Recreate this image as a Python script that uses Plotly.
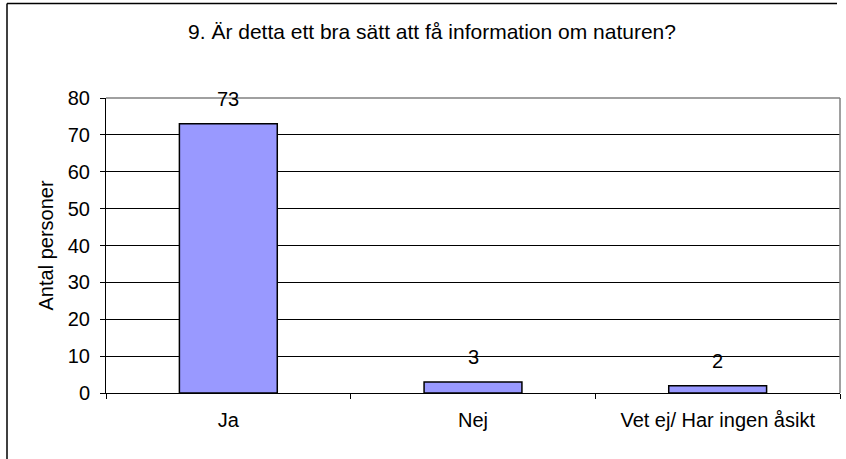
import plotly.graph_objects as go

categories = ["Ja", "Nej", "Vet ej/ Har ingen åsikt"]
values = [73, 3, 2]
y_ticks = [0, 10, 20, 30, 40, 50, 60, 70, 80]
title_text = "9. Är detta ett bra sätt att få information om naturen?"
y_title = "Antal personer"

W, H = 846, 459
L, R, T, B = 106, 6, 98, 66
pw, ph = W - L - R, H - T - B

FONT = "Liberation Sans, Arial, sans-serif"
FS = 20

fig = go.Figure()
fig.add_trace(go.Bar(
    x=categories, y=values,
    marker=dict(color="#9999FF", line=dict(color="#000000", width=1.5)),
    hoverinfo="skip",
))

for c, v in zip(categories, values):
    fig.add_annotation(x=c, y=v, text=str(v), showarrow=False,
                       yanchor="middle", yshift=25,
                       font=dict(family=FONT, size=FS, color="#000000"))

# y-axis title
fig.add_annotation(xref="paper", yref="paper", x=(45 - L) / pw, y=0.5,
                   text=y_title, textangle=-90, showarrow=False,
                   xanchor="center", yanchor="middle",
                   font=dict(family=FONT, size=FS, color="#000000"))

def px_x(x):
    return (x - L) / pw

def px_y(y):
    return (H - B - y) / ph

# plot frame top/right gray
fig.add_shape(type="line", xref="paper", yref="paper", x0=0, x1=1, y0=1, y1=1,
              line=dict(color="#808080", width=1.5))
fig.add_shape(type="line", xref="paper", yref="paper", x0=1, x1=1, y0=0, y1=1,
              line=dict(color="#808080", width=1.5))
# outer chart border (top and left visible)
fig.add_shape(type="line", xref="paper", yref="paper",
              x0=px_x(7), x1=px_x(837), y0=px_y(3.5), y1=px_y(3.5),
              line=dict(color="#000000", width=1.5))
fig.add_shape(type="line", xref="paper", yref="paper",
              x0=px_x(7), x1=px_x(7), y0=px_y(3.5), y1=px_y(470),
              line=dict(color="#000000", width=1.5))

fig.update_layout(
    width=W, height=H,
    margin=dict(l=L, r=R, t=T, b=B, autoexpand=False),
    paper_bgcolor="#ffffff", plot_bgcolor="#ffffff",
    showlegend=False,
    bargap=0.6,
    title=dict(text=title_text, x=432 / W, xanchor="center",
               y=1 - 31.5 / H, yanchor="middle", yref="container", xref="container",
               font=dict(family=FONT, size=21, color="#000000")),
    xaxis=dict(type="category", tickson="boundaries", ticks="outside", ticklen=5,
               tickcolor="#000000", showline=True, linecolor="#000000", linewidth=1,
               showgrid=False, ticklabelstandoff=9, fixedrange=True,
               tickfont=dict(family=FONT, size=FS, color="#000000")),
    yaxis=dict(range=[0, 80], tickvals=y_ticks, ticks="outside", ticklen=5,
               tickcolor="#000000", showline=True, linecolor="#000000", linewidth=1,
               showgrid=True, gridcolor="#000000", gridwidth=1, zeroline=False,
               ticklabelstandoff=6, fixedrange=True,
               tickfont=dict(family=FONT, size=FS, color="#000000")),
)

fig.write_html("out.html", config={"displayModeBar": False},
               post_script="document.body.style.margin='0';document.body.style.overflow='hidden';")
